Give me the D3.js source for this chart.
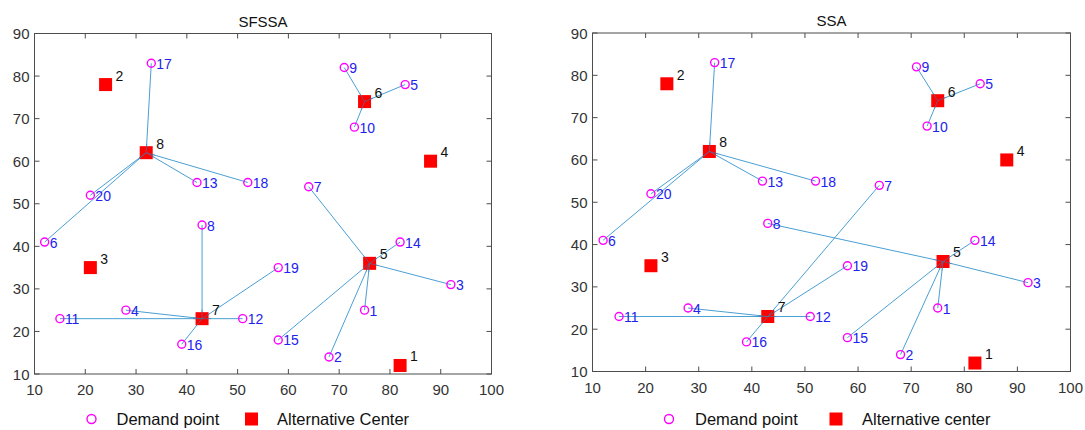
<!DOCTYPE html>
<html><head><meta charset="utf-8">
<script src="https://cdn.jsdelivr.net/npm/d3@7"></script>
<style>body{margin:0;background:#fff;font-family:"Liberation Sans",Arial,sans-serif}</style>
</head><body>
<svg id="chart" width="1085" height="430"></svg>
<script>
// Demand points (id, x, y)
const demandIds = [1,2,3,4,5,6,7,8,9,10,11,12,13,14,15,16,17,18,19,20];
const demandX = [75,68,92,28,83,12,64,43,71,73,15,51,42,82,58,39,33,52,58,21];
const demandY = [25,14,31,25,78,41,54,45,82,68,23,23,55,41,18,17,83,55,35,52];
// Alternative centers
const centerIds = [1,2,3,4,5,6,7,8];
const centerX = [82,24,21,88,76,75,43,32];
const centerY = [12,78,35,60,36,74,23,62];
// Assignment of each demand point (1..20) to a center id
const assignSFSSA = [5,5,5,7,6,8,5,7,6,6,7,7,8,5,5,7,8,8,7,8];
const assignSSA   = [5,5,5,7,6,8,7,5,6,6,7,7,8,5,5,7,8,8,7,8];
const xTicks = [10,20,30,40,50,60,70,80,90,100];
const yTicks = [10,20,30,40,50,60,70,80,90];
const panelTitles = ["SFSSA","SSA"];
const legendLabels = [["Demand point","Alternative Center"],["Demand point","Alternative center"]];

const svg = d3.select("#chart");
const panels = [
  {x0:34.5, x1:491.5, y0:33.5, y1:374, assign:assignSFSSA, legend:[91.5,116.5,251.5,277]},
  {x0:592.5, x1:1070.5, y0:33, y1:371.5, assign:assignSSA, legend:[669,695,836,862]}
];

panels.forEach((p,pi)=>{
  const g = svg.append("g");
  const x = d3.scaleLinear().domain([10,100]).range([p.x0,p.x1]);
  const y = d3.scaleLinear().domain([10,90]).range([p.y1,p.y0]);
  const axisCol = "#4d4d4d";
  g.append("rect").attr("x",p.x0).attr("y",p.y0).attr("width",p.x1-p.x0).attr("height",p.y1-p.y0)
    .attr("fill","none").attr("stroke",axisCol).attr("stroke-width",1);
  const tl = 5;
  const ax = g.append("g").attr("stroke",axisCol).attr("stroke-width",1);
  xTicks.forEach(t=>{
    ax.append("line").attr("x1",x(t)).attr("x2",x(t)).attr("y1",p.y1).attr("y2",p.y1-tl);
    ax.append("line").attr("x1",x(t)).attr("x2",x(t)).attr("y1",p.y0).attr("y2",p.y0+tl);
  });
  yTicks.forEach(t=>{
    ax.append("line").attr("y1",y(t)).attr("y2",y(t)).attr("x1",p.x0).attr("x2",p.x0+tl);
    ax.append("line").attr("y1",y(t)).attr("y2",y(t)).attr("x1",p.x1).attr("x2",p.x1-tl);
  });
  g.selectAll(".xt").data(xTicks).enter().append("text")
    .attr("x",d=>x(d)).attr("y",p.y1+21).attr("text-anchor","middle")
    .attr("font-size",15).attr("fill","#333").text(d=>d);
  g.selectAll(".yt").data(yTicks).enter().append("text")
    .attr("x",p.x0-5).attr("y",d=>y(d)+5.5).attr("text-anchor","end")
    .attr("font-size",15).attr("fill","#333").text(d=>d);
  g.append("text").attr("x",(p.x0+p.x1)/2).attr("y",p.y0-7).attr("text-anchor","middle")
    .attr("font-size",15).attr("fill","#111").text(panelTitles[pi]);
  // links
  demandIds.forEach((id,i)=>{
    const c = centerIds.indexOf(p.assign[i]);
    g.append("line").attr("x1",x(demandX[i])).attr("y1",y(demandY[i]))
      .attr("x2",x(centerX[c])).attr("y2",y(centerY[c]))
      .attr("stroke","#4a9fd4").attr("stroke-width",1);
  });
  // centers
  centerIds.forEach((id,i)=>{
    g.append("rect").attr("x",x(centerX[i])-6.5).attr("y",y(centerY[i])-6.5)
      .attr("width",13).attr("height",13).attr("fill","#ff0000");
    g.append("text").attr("x",x(centerX[i])+10).attr("y",y(centerY[i])-4)
      .attr("font-size",14).attr("fill","#111").text(id);
  });
  // link ends visible over the squares
  demandIds.forEach((id,i)=>{
    const c = centerIds.indexOf(p.assign[i]);
    const cx = x(centerX[c]), cy = y(centerY[c]);
    const dx = x(demandX[i])-cx, dy = y(demandY[i])-cy;
    const len = Math.hypot(dx,dy), k = Math.min(1, 9/len);
    g.append("line").attr("x1",cx).attr("y1",cy).attr("x2",cx+dx*k).attr("y2",cy+dy*k)
      .attr("stroke","#3a7fb0").attr("stroke-width",1).attr("opacity",0.6);
  });
  // demand points
  demandIds.forEach((id,i)=>{
    g.append("circle").attr("cx",x(demandX[i])).attr("cy",y(demandY[i])).attr("r",4)
      .attr("fill","none").attr("stroke","#ff00ff").attr("stroke-width",1.4);
    g.append("text").attr("x",x(demandX[i])+5).attr("y",y(demandY[i])+5.5)
      .attr("font-size",14).attr("fill","#2222ee").text(id);
  });
  // legend
  const ly = 419;
  g.append("circle").attr("cx",p.legend[0]).attr("cy",ly).attr("r",4.5)
    .attr("fill","none").attr("stroke","#ff00ff").attr("stroke-width",1.4);
  g.append("text").attr("x",p.legend[1]).attr("y",ly+6).attr("font-size",16.5).attr("fill","#111").text(legendLabels[pi][0]);
  g.append("rect").attr("x",p.legend[2]-6.5).attr("y",ly-6.5).attr("width",13).attr("height",13).attr("fill","#ff0000");
  g.append("text").attr("x",p.legend[3]).attr("y",ly+6).attr("font-size",16.5).attr("fill","#111").text(legendLabels[pi][1]);
});
</script>
</body></html>
